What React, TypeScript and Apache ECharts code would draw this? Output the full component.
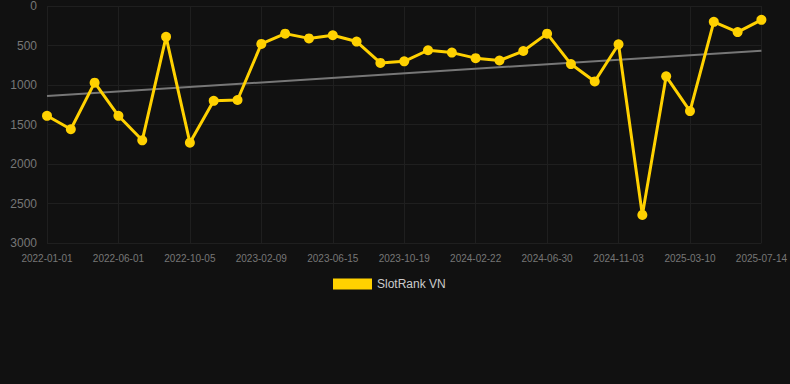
import React, { useEffect, useRef } from "react";
import * as echarts from "echarts";

const categories: string[] = [
  "2022-01-01", "2022-02-20", "2022-04-12",
  "2022-06-01", "2022-07-13", "2022-08-24",
  "2022-10-05", "2022-11-17", "2022-12-29",
  "2023-02-09", "2023-03-23", "2023-05-04",
  "2023-06-15", "2023-07-27", "2023-09-07",
  "2023-10-19", "2023-11-30", "2024-01-11",
  "2024-02-22", "2024-04-04", "2024-05-17",
  "2024-06-30", "2024-08-11", "2024-09-22",
  "2024-11-03", "2024-12-15", "2025-01-26",
  "2025-03-10", "2025-04-21", "2025-06-02",
  "2025-07-14",
];

const rankValues: number[] = [
  1390, 1560, 970, 1390, 1700, 390, 1730, 1200, 1190, 480,
  350, 410, 370, 450, 720, 700, 560, 590, 660, 690,
  570, 350, 735, 955, 485, 2645, 890, 1330, 200, 330,
  175,
];

const trendEnds: number[] = [1140, 565];

const yTicks = { min: 0, max: 3000, interval: 500 };

export default function App() {
  const ref = useRef<HTMLDivElement>(null);

  useEffect(() => {
    if (!ref.current) return;
    const chart = echarts.init(ref.current, undefined, { renderer: "svg" });
    const trendData = categories.map((_, i) =>
      i === 0 ? trendEnds[0] : i === categories.length - 1 ? trendEnds[1] : null
    );
    chart.setOption({
      animation: false,
      backgroundColor: "#111111",
      grid: { left: 47, right: 28, top: 6, bottom: 141 },
      legend: {
        top: 273,
        left: 328,
        icon: "rect",
        itemWidth: 39,
        itemHeight: 11,
        textStyle: { color: "#cccccc", fontSize: 12, fontFamily: "Arial, Liberation Sans, sans-serif" },
        data: ["SlotRank VN"],
      },
      xAxis: {
        type: "category",
        data: categories,
        boundaryGap: false,
        axisLine: { show: false },
        axisTick: { show: false },
        axisLabel: {
          interval: 2,
          color: "#777777",
          fontSize: 10,
          margin: 10,
          fontFamily: "Arial, Liberation Sans, sans-serif",
        },
        splitLine: { show: true, interval: 2, lineStyle: { color: "#1f1f1f", width: 1 } },
      },
      yAxis: {
        type: "value",
        inverse: true,
        min: yTicks.min,
        max: yTicks.max,
        interval: yTicks.interval,
        axisLine: { show: false },
        axisTick: { show: false },
        axisLabel: {
          color: "#777777",
          fontSize: 12,
          margin: 10,
          formatter: (v: number) => String(v),
          fontFamily: "Arial, Liberation Sans, sans-serif",
        },
        splitLine: { show: true, lineStyle: { color: "#1f1f1f", width: 1 } },
      },
      series: [
        {
          name: "SlotRank VN",
          type: "line",
          data: rankValues,
          symbol: "circle",
          symbolSize: 10,
          itemStyle: { color: "#FFD100" },
          lineStyle: { color: "#FFD100", width: 3 },
          z: 3,
        },
        {
          name: "Trend",
          type: "line",
          data: trendData,
          connectNulls: true,
          symbol: "none",
          lineStyle: { color: "#777777", width: 2 },
          itemStyle: { color: "#777777" },
          z: 2,
        },
      ],
    });
    return () => chart.dispose();
  }, []);

  return (
    <div
      ref={ref}
      style={{ position: "fixed", left: 0, top: 0, width: 790, height: 384, background: "#111111" }}
    />
  );
}
